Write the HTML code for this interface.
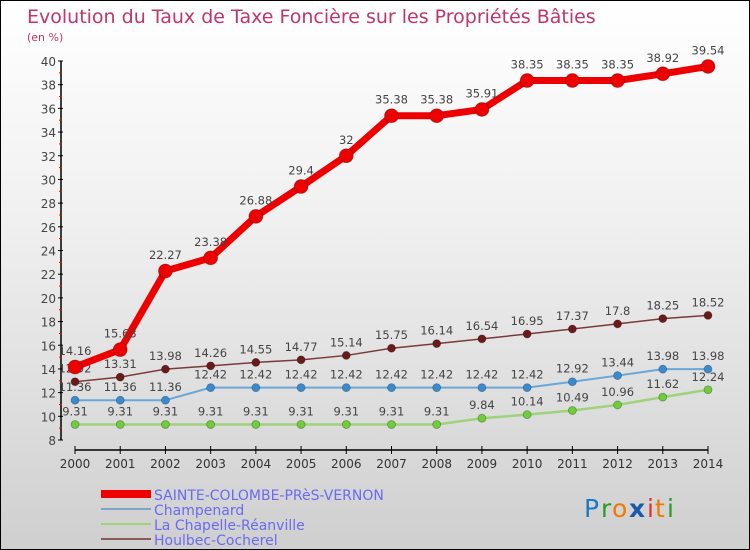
<!DOCTYPE html>
<html><head><meta charset="utf-8"><style>
html,body{margin:0;padding:0}
body{width:750px;height:550px;overflow:hidden;font-family:"DejaVu Sans","Liberation Sans",sans-serif}
#wrap{position:relative;width:748px;height:548px;border:1px solid #000;background:linear-gradient(#ffffff,#f0f0f0 40%,#cfcfcf)}
</style></head><body>
<div id="wrap">
<svg id="chart" width="748" height="548" style="position:absolute;left:0;top:0">
<text x="26" y="22" font-size="19" fill="#c0356a">Evolution du Taux de Taxe Foncière sur les Propriétés Bâties</text>
<text x="26" y="40" font-size="11" fill="#c0356a">(en %)</text>
<g id="axes"></g>
<g id="series"></g>
<g id="legend" font-size="14" fill="#6a6af0">
<rect x="100" y="489" width="50" height="8" fill="#ee0000"/>
<text x="153" y="499">SAINTE-COLOMBE-PRèS-VERNON</text>
<rect x="100" y="507" width="50" height="2" fill="#7aa7c7"/>
<text x="153" y="514">Champenard</text>
<rect x="100" y="522" width="50" height="2" fill="#9fd27a"/>
<text x="153" y="529">La Chapelle-Réanville</text>
<rect x="100" y="537" width="50" height="2" fill="#8a5a5a"/>
<text x="153" y="544">Houlbec-Cocherel</text>
</g>
<g font-size="25" font-family="DejaVu Sans,sans-serif">
<text x="583" y="516" fill="#1a7ac8">P</text><text x="600" y="516" fill="#2a9a2a">r</text><text x="611" y="516" fill="#f07800">o</text><text x="628" y="516" fill="#1a5aa8" font-weight="bold">x</text><text x="646" y="516" fill="#e03030">i</text><text x="654" y="516" fill="#f07800">t</text><text x="666" y="516" fill="#2a9a2a">i</text>
</g>
</svg>
</div>
<script>
const years=[2000,2001,2002,2003,2004,2005,2006,2007,2008,2009,2010,2011,2012,2013,2014];
const sainteColombe=[14.16,15.63,22.27,23.38,26.88,29.4,32,35.38,35.38,35.91,38.35,38.35,38.35,38.92,39.54];
const champenard=[11.36,11.36,11.36,12.42,12.42,12.42,12.42,12.42,12.42,12.42,12.42,12.92,13.44,13.98,13.98];
const laChapelle=[9.31,9.31,9.31,9.31,9.31,9.31,9.31,9.31,9.31,9.84,10.14,10.49,10.96,11.62,12.24];
const houlbec=[12.92,13.31,13.98,14.26,14.55,14.77,15.14,15.75,16.14,16.54,16.95,17.37,17.8,18.25,18.52];
const yTicks=[8,10,12,14,16,18,20,22,24,26,28,30,32,34,36,38,40];
const NS='http://www.w3.org/2000/svg';
function X(i){return 74+i*(633/(years.length-1));}
function Y(v){return 439-(v-8)*(379/32);}
function mk(tag,attrs,parent){const e=document.createElementNS(NS,tag);for(const k in attrs)e.setAttribute(k,attrs[k]);parent.appendChild(e);return e;}
const axes=document.getElementById('axes');
let a=mk('line',{x1:60,y1:Y(40),x2:60,y2:Y(8),stroke:'#000','stroke-width':1.5},axes);


const yMax=yTicks[yTicks.length-1];
yTicks.forEach(v=>{
 mk('line',{x1:57,y1:Y(v),x2:62,y2:Y(v),stroke:'#000'},axes);
 if(v<yMax) mk('line',{x1:58,y1:Y(v+1),x2:61,y2:Y(v+1),stroke:'#f00'},axes);
 const t=mk('text',{x:55,y:Y(v)+5,'font-size':12,fill:'#444','text-anchor':'end'},axes);
 t.textContent=v;
 
 
});
let xa=mk('line',{x1:X(0),y1:449,x2:X(years.length-1),y2:449,stroke:'#000','stroke-width':1.5},axes);


years.forEach((yr,i)=>{
 mk('line',{x1:X(i),y1:445,x2:X(i),y2:453,stroke:'#000'},axes);
 const t=mk('text',{x:X(i),y:467,'font-size':12,fill:'#333','text-anchor':'middle'},axes);
 t.textContent=yr;
 
 
});
const sg=document.getElementById('series');
function drawSeries(vals,name,color,dot,lw,r){
 const g=mk('g',{},sg);
 
 
 const p=mk('polyline',{points:vals.map((v,i)=>X(i)+','+Y(v)).join(' '),fill:'none',stroke:color,'stroke-width':lw,'stroke-linejoin':'round'},g);
 
 
 vals.forEach((v,i)=>{
  const c=mk('circle',{cx:X(i),cy:Y(v),r:r,fill:dot,stroke:'rgba(0,0,0,0.3)','stroke-width':0.8},g);
  
  
  const t=mk('text',{x:X(i),y:Y(v)-(r+5),'font-size':11.5,fill:'#444','text-anchor':'middle'},g);
  t.textContent=v;
  
  
 });
}
drawSeries(laChapelle,'la-chapelle','#9fd27a','#6fcc3a',2.5,4);
drawSeries(champenard,'champenard','#6aa6d6','#3a8ad0',2,4);
drawSeries(houlbec,'houlbec','#7a3a3a','#6a1a1a',1.5,4);
drawSeries(sainteColombe,'sainte-colombe','#ee0000','#ee0000',7,7);
</script>
</body></html>
